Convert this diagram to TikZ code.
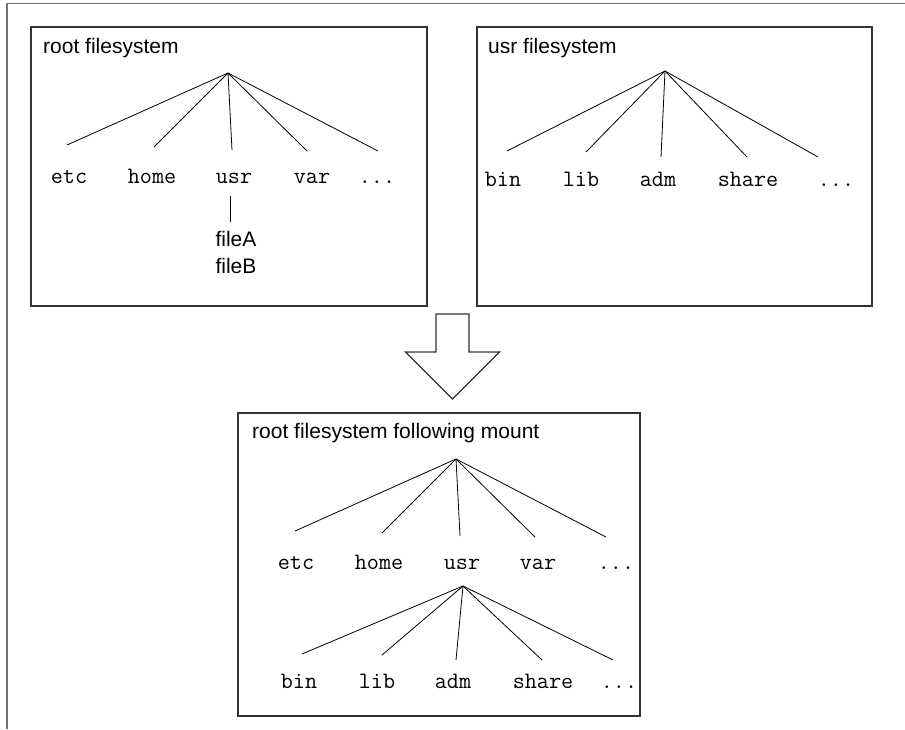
\documentclass[tikz,border=0pt]{standalone}
\usepackage{fontspec}
\setmainfont{Liberation Sans}
\begin{document}
\begin{tikzpicture}[x=1pt,y=-1pt,
  frame/.style={draw=black!55,line width=1.6pt},
  fsbox/.style={draw=black!80,line width=1.3pt},
  branch/.style={draw=black,line width=0.8pt},
  title/.style={font=\fontsize{21}{25}\selectfont,anchor=west,inner sep=0pt},
  dir/.style={font=\fontsize{23.5}{27}\selectfont\ttfamily,inner sep=0pt,
    anchor=base},
  file/.style={font=\fontsize{21}{25}\selectfont,inner sep=0pt},
  bigarrow/.style={draw=black!80,line width=1.1pt,fill=white,line join=miter}]
\useasboundingbox (0,0) rectangle (905,729);
% outer frame: top and left edges only
\draw[frame] (905,3.5) -- (7,3.5) -- (7,729);

% ---------- root filesystem ----------
\draw[fsbox] (31,27) rectangle (427,306);
\node[title] (t1) at (43,48) {root filesystem};
\coordinate (r1) at (228,73);
\coordinate (r1a) at (67,145);
\coordinate (r1b) at (154,147);
\coordinate (r1c) at (232,150);
\coordinate (r1d) at (307,151);
\coordinate (r1e) at (378,151);
\node[dir] (etc1)  at (69,183)  {etc};
\node[dir] (home1) at (152,183) {home};
\node[dir] (usr1)  at (234,183) {usr};
\node[dir] (var1)  at (312,183) {var};
\node[dir] (dots1) at (377,183) {...};
\foreach \e in {r1a,r1b,r1c,r1d,r1e} \draw[branch] (r1) -- (\e);
\coordinate (u1top) at (230,196);
\coordinate (u1bot) at (230,222);
\draw[branch] (u1top) -- (u1bot);
\node[file] (fa) at (236,239) {fileA};
\node[file] (fb) at (236,266) {fileB};

% ---------- usr filesystem ----------
\draw[fsbox] (477,27) rectangle (872,306);
\node[title] (t2) at (488,48) {usr filesystem};
\coordinate (r2) at (665,71);
\coordinate (r2a) at (507,151);
\coordinate (r2b) at (586,152);
\coordinate (r2c) at (661,157);
\coordinate (r2d) at (747,157);
\coordinate (r2e) at (818,157);
\node[dir] (bin2)   at (503,186) {bin};
\node[dir] (lib2)   at (581,186) {lib};
\node[dir] (adm2)   at (658,186) {adm};
\node[dir] (share2) at (748,186) {share};
\node[dir] (dots2)  at (836,186) {...};
\foreach \e in {r2a,r2b,r2c,r2d,r2e} \draw[branch] (r2) -- (\e);

% ---------- mount arrow ----------
\draw[bigarrow] (436,314) -- (469,314) -- (469,352) -- (499.5,352)
  -- (452.5,399) -- (405.5,352) -- (436,352) -- cycle;

% ---------- root filesystem following mount ----------
\draw[fsbox] (238,413) rectangle (640,716);
\node[title] (t3) at (252,433) {root filesystem following mount};
\coordinate (r3) at (456,459);
\coordinate (r3a) at (295,531);
\coordinate (r3b) at (382,533);
\coordinate (r3c) at (460,536);
\coordinate (r3d) at (535,537);
\coordinate (r3e) at (606,537);
\node[dir] (etc3)  at (296,569) {etc};
\node[dir] (home3) at (379,569) {home};
\node[dir] (usr3)  at (462,569) {usr};
\node[dir] (var3)  at (538,569) {var};
\node[dir] (dots3) at (616,569) {...};
\foreach \e in {r3a,r3b,r3c,r3d,r3e} \draw[branch] (r3) -- (\e);
\coordinate (r4) at (463,586);
\coordinate (r4a) at (302,654);
\coordinate (r4b) at (382,655);
\coordinate (r4c) at (456,660);
\coordinate (r4d) at (542,660);
\coordinate (r4e) at (613,660);
\node[dir] (bin4)   at (299,688) {bin};
\node[dir] (lib4)   at (377,688) {lib};
\node[dir] (adm4)   at (453,688) {adm};
\node[dir] (share4) at (543,688) {share};
\node[dir] (dots4)  at (619,688) {...};
\foreach \e in {r4a,r4b,r4c,r4d,r4e} \draw[branch] (r4) -- (\e);
\end{tikzpicture}
\end{document}
